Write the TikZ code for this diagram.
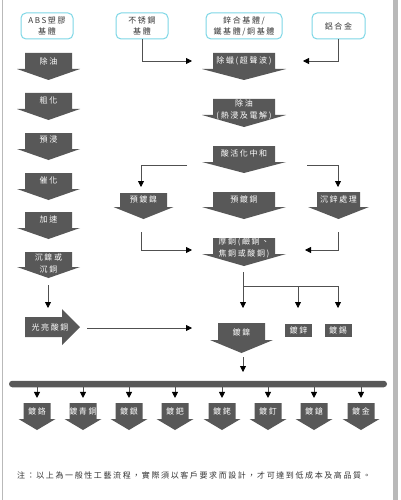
\documentclass[tikz,border=0pt]{standalone}
\usepackage{fontspec}
\newfontfamily\cjk[LetterSpace=20]{Noto Sans CJK TC}
\usetikzlibrary{arrows.meta}
\definecolor{blk}{RGB}{88,88,88}
\definecolor{cyanb}{RGB}{125,215,230}
\definecolor{linec}{RGB}{80,80,80}
\definecolor{txt}{RGB}{55,55,55}
\newcommand\blockdown[9]{%
  \fill[blk] ({#2-#4/2},#3) -- ({#2+#4/2},#3) -- ({#2+#4/2},{#3+#6}) -- ({#2+#5/2},{#3+#6}) -- (#2,{#3+#6+#7}) -- ({#2-#5/2},{#3+#6}) -- ({#2-#4/2},{#3+#6}) -- cycle;
  \node[lbl] (#1) at (#2,#9) {#8};}
\begin{document}
\begin{tikzpicture}[x=1pt,y=-1pt,
  lbl/.style={text=white, font=\cjk\fontsize{8}{12}\selectfont, align=center, inner sep=0pt},
  srcbox/.style={draw=cyanb, line width=1pt, rounded corners=5pt, fill=white, text=txt,
    font=\cjk\fontsize{8}{11}\selectfont, align=center, minimum height=26pt, inner sep=0pt},
  smallbox/.style={fill=blk, text=white, font=\cjk\fontsize{8}{10}\selectfont, minimum width=27pt, minimum height=13pt, inner sep=0pt},
  conn/.style={draw=linec, line width=0.8pt, -{Triangle[length=6pt,width=6pt,color=black]}},
  bar/.style={fill=blk, rounded corners=3.25pt, minimum width=378pt, minimum height=6.5pt, inner sep=0pt}
]
\useasboundingbox (0,0) rectangle (400,500);
\fill[white] (0,0) rectangle (400,500);
\draw[gray!55, line width=1pt] (2.5,0) -- (2.5,500);
\fill[gray!55] (392.5,0) rectangle (397.5,500);

% source boxes
\node[srcbox, minimum width=52pt] (abs) at (47,26) {ABS塑膠\\基體};
\node[srcbox, minimum width=52pt] (sst) at (142,26) {不锈鋼\\基體};
\node[srcbox, minimum width=76pt] (zinc) at (244,26) {鋅合基體/\\鐵基體/銅基體};
\node[srcbox, minimum width=53pt] (alu) at (338.5,26) {鋁合金};

% left column
\blockdown{l1}{48.5}{53}{47}{63}{16}{11}{除油}{61}
\blockdown{l2}{48.5}{93}{47}{63}{16}{11}{粗化}{100}
\blockdown{l3}{48.5}{133}{47}{63}{16}{11}{預浸}{140}
\blockdown{l4}{48.5}{173}{47}{63}{16}{11}{催化}{180}
\blockdown{l5}{48.5}{212}{47}{63}{16}{11}{加速}{219}
\blockdown{l6}{48.5}{252}{47}{63}{15}{11}{沉鎳或\\沉銅}{263}
\fill[blk] (25,317) -- (62,317) -- (62,309) -- (80,327) -- (62,345) -- (62,337) -- (25,337) -- cycle;
\node[lbl] (bright) at (50,327) {光亮酸銅};

% middle column
\blockdown{m1}{244}{53}{62}{84}{16}{11}{除蠟(超聲波)}{61}
\blockdown{m2}{244}{99}{62}{84}{16}{12}{除油\\(熱浸及電解)}{109.5}
\blockdown{m3}{244}{146}{62}{84}{16}{11}{酸活化中和}{153}
\blockdown{m4}{244}{192}{62}{84}{15}{12}{預鍍銅}{199}
\blockdown{m5}{244}{238}{62}{84}{16}{12}{厚銅(鹼銅、\\焦銅或酸銅)}{248}
\blockdown{pni}{143.5}{193}{47}{60}{14}{12}{預鍍鎳}{199}
\blockdown{zn}{338.5}{192}{43}{61}{15}{12}{沉鋅處理}{199}
\blockdown{ni}{241.5}{323}{47}{63}{17}{13}{鍍鎳}{332}
\node[smallbox] (pzn) at (298.5,330.5) {鍍鋅};
\node[smallbox] (psn) at (338,330.5) {鍍錫};

% bar
\node[bar] (bar) at (198,384) {};

% bottom arrows
\blockdown{b1}{37}{403}{27}{37}{16}{11}{鍍鉻}{411}
\blockdown{b2}{83}{403}{27}{37}{16}{11}{鍍青銅}{411}
\blockdown{b3}{129}{403}{27}{37}{16}{11}{鍍銀}{411}
\blockdown{b4}{175}{403}{27}{37}{16}{11}{鍍鈀}{411}
\blockdown{b5}{222}{403}{27}{37}{16}{11}{鍍銠}{411}
\blockdown{b6}{268}{403}{27}{37}{16}{11}{鍍釘}{411}
\blockdown{b7}{314}{403}{27}{37}{16}{11}{鍍鎗}{411}
\blockdown{b8}{361}{403}{27}{37}{16}{11}{鍍金}{411}

% connectors
\coordinate (p1) at (192,61);
\draw[conn] (sst.south) |- (p1);
\coordinate (p2) at (303,61);
\draw[conn] (alu.south) |- (p2);
\coordinate (s3) at (187,165); \coordinate (p3) at (141,187);
\draw[conn] (s3) -| (p3);
\coordinate (s4) at (307,165); \coordinate (p4) at (338,187);
\draw[conn] (s4) -| (p4);
\coordinate (s5) at (141,232); \coordinate (p5) at (192,250);
\draw[conn] (s5) |- (p5);
\coordinate (s6) at (338,232); \coordinate (p6) at (305,250);
\draw[conn] (s6) |- (p6);
\coordinate (s7) at (243,272); \coordinate (p7) at (243,308);
\draw[conn] (s7) -- (p7);
\coordinate (j7) at (243,286); \coordinate (p7b) at (298,308); \coordinate (p7c) at (338,308);
\draw[conn] (j7) -| (p7c);
\draw[conn] (p7b |- j7) -- (p7b);
\coordinate (s8) at (48,285); \coordinate (p8) at (48,308);
\draw[conn] (s8) -- (p8);
\coordinate (s9) at (87,328); \coordinate (p9) at (192,328);
\draw[conn] (s9) -- (p9);
\coordinate (s10) at (243,357); \coordinate (p10) at (243,372);
\draw[conn] (s10) -- (p10);
\foreach \b in {b1,b2,b3,b4,b5,b6,b7,b8}
  \draw[conn] (bar.south -| \b) -- ++(0,10.5);

% note
\node[font=\cjk\fontsize{8}{10}\selectfont, text=black!80, anchor=west, inner sep=0pt] (note) at (17,475) {注：以上為一般性工藝流程，實際須以客戶要求而設計，才可達到低成本及高品質。};
\end{tikzpicture}
\end{document}
